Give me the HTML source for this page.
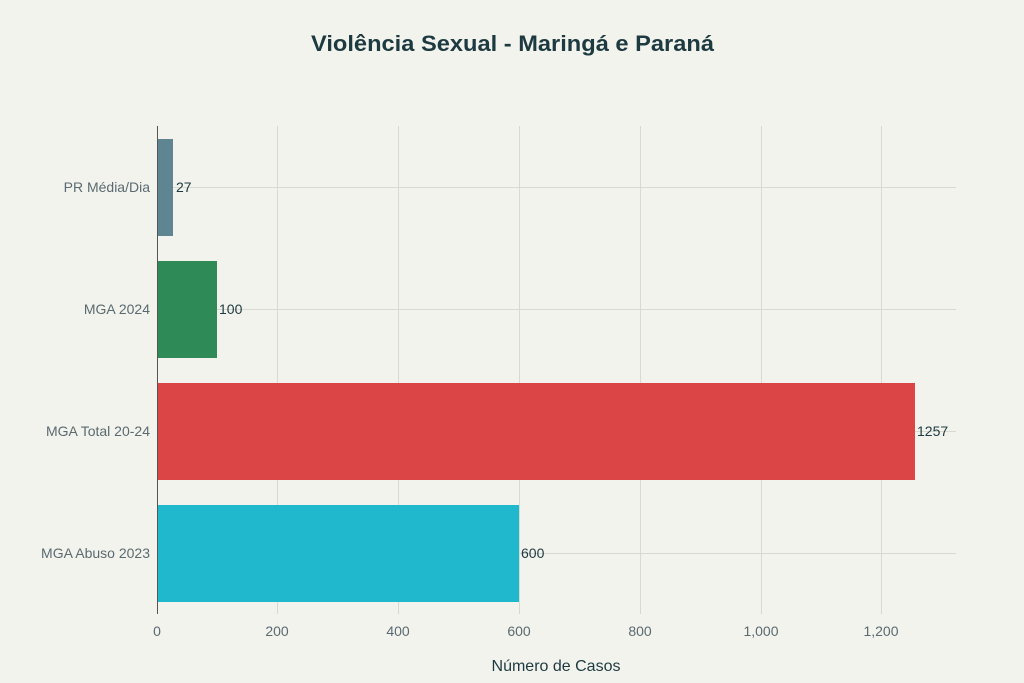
<!DOCTYPE html>
<html><head><meta charset="utf-8"><style>
body{margin:0;background:#f3f3ee;}
svg{display:block;font-family:"Liberation Sans",sans-serif;}
</style></head><body>
<svg width="1024" height="683" viewBox="0 0 1024 683" xmlns="http://www.w3.org/2000/svg">
<rect width="1024" height="683" fill="#f3f3ee"/>
<text x="311" y="51" font-size="22" font-weight="bold" fill="#1d3a40" textLength="403" lengthAdjust="spacingAndGlyphs">Violência Sexual - Maringá e Paraná</text>
<g stroke="#d9d9d4" stroke-width="1">
<line x1="277.5" y1="126" x2="277.5" y2="614"/>
<line x1="398.5" y1="126" x2="398.5" y2="614"/>
<line x1="519.5" y1="126" x2="519.5" y2="614"/>
<line x1="640.5" y1="126" x2="640.5" y2="614"/>
<line x1="761.5" y1="126" x2="761.5" y2="614"/>
<line x1="881.5" y1="126" x2="881.5" y2="614"/>
<line x1="157" y1="187.5" x2="956" y2="187.5"/>
<line x1="157" y1="309.5" x2="956" y2="309.5"/>
<line x1="157" y1="431.5" x2="956" y2="431.5"/>
<line x1="157" y1="553.5" x2="956" y2="553.5"/>
</g>
<rect x="157" y="139" width="16" height="97" fill="#5e8591"/>
<rect x="157" y="261" width="60" height="97" fill="#2e8b57"/>
<rect x="157" y="383" width="758" height="97" fill="#db4545"/>
<rect x="157" y="505" width="362" height="97" fill="#1fb8cd"/>
<line x1="157.5" y1="126" x2="157.5" y2="614" stroke="#555" stroke-width="1"/>
<g font-size="14" fill="#1d3a40">
<text x="176" y="192">27</text>
<text x="219" y="314">100</text>
<text x="917" y="436">1257</text>
<text x="521" y="558">600</text>
</g>
<g font-size="14" fill="#5a6a70" text-anchor="end">
<text x="150" y="192">PR Média/Dia</text>
<text x="150" y="314">MGA 2024</text>
<text x="150" y="436">MGA Total 20-24</text>
<text x="150" y="558">MGA Abuso 2023</text>
</g>
<g font-size="14" fill="#5a6a70" text-anchor="middle">
<text x="157" y="636">0</text>
<text x="277" y="636">200</text>
<text x="398" y="636">400</text>
<text x="519" y="636">600</text>
<text x="640" y="636">800</text>
<text x="761" y="636">1,000</text>
<text x="881" y="636">1,200</text>
</g>
<text x="556" y="671" text-anchor="middle" font-size="16" fill="#1d3a40">Número de Casos</text>
</svg>
</body></html>
